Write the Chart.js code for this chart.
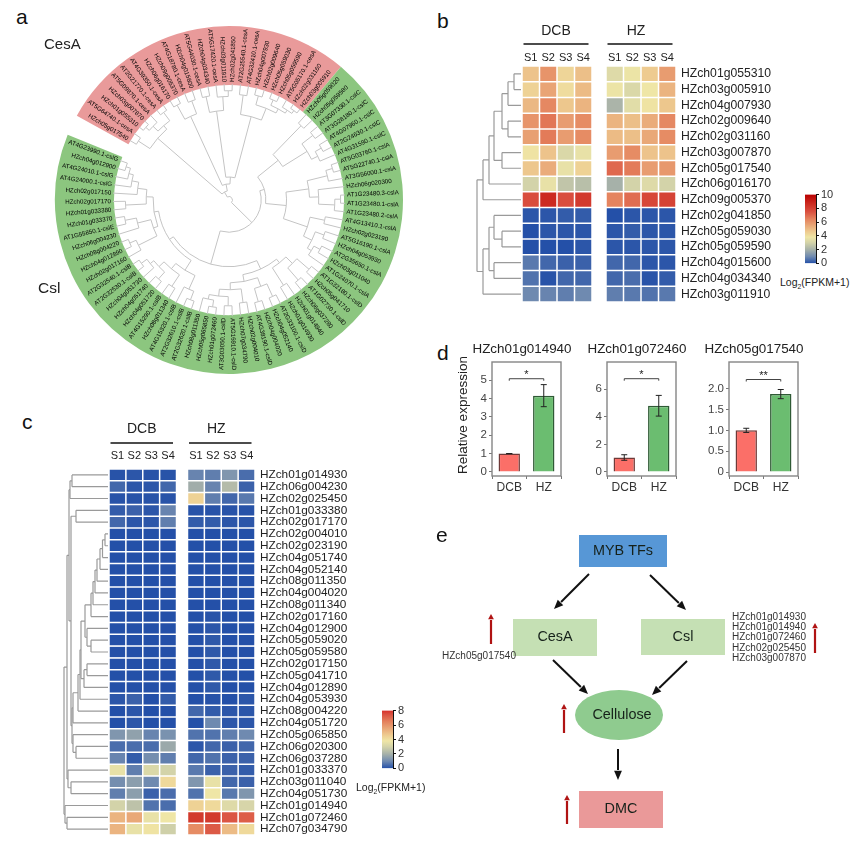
<!DOCTYPE html>
<html>
<head>
<meta charset="utf-8">
<title>Cellulose genes</title>
<script src="https://cdn.jsdelivr.net/npm/chart.js@4"></script>
<style>
  html, body { margin: 0; background: #fff; }
  body { width: 865px; height: 846px; position: relative; overflow: hidden; filter: blur(0.3px); font-family: "Liberation Sans", Arial, sans-serif; color: #222; }
  canvas { position: absolute; }
  .txt { position: absolute; white-space: nowrap; transform: translateY(-50%); line-height: 1; }
  .txt sub { font-size: 0.65em; line-height: 0; }
</style>
</head>
<body>
<script>
// panel a: leaves clockwise, from the start of each sector
const cesaLeaves = ["HZch05g017540","AT5G64740.1-cesA","HZch01g055310","HZch03g007870","AT5G09870.1-cesA","AT2G21770.1-cesA","AT4G39350.1-cesA","HZch06g016170","HZch09g005370","AT4G18780.1-cesA","HZch04g015600","AT5G44030.1-cesA","HZch04g034340","AT5G17420.1-cesA","HZch03g011910","HZch02g041850","AT2G25540.1-cesA","AT4G32410.1-cesA","HZch04g007930","HZch02g009640","HZch05g059030","HZch05g059590","AT5G05170.1-cesA","HZch02g031160","HZch03g005910"];
const cslLeaves = ["HZch05g059020","HZch05g059580","AT3G07330.1-cslC","AT3G28180.1-cslC","AT4G07960.1-cslC","AT2G24630.1-cslC","AT4G31590.1-cslC","AT5G03760.1-cslA","AT5G22740.1-cslA","AT3G56000.1-cslA","HZch06g020300","AT1G23480.3-cslA","AT1G23480.1-cslA","AT1G23480.2-cslA","AT4G13410.1-cslA","HZch02g023190","AT5G16190.1-cslA","HZch04g053930","AT2G35650.1-cslA","HZch03g011040","AT1G24070.1-cslA","AT1G32180.1-cslD","HZch05g041710","AT1G02730.1-cslD","HZch06g037280","HZch01g014940","HZch01g014930","AT2G33100.1-cslD","HZch04g052140","HZch04g004020","AT4G38190.1-cslD","HZch02g004010","HZch07g034790","AT5G16910.1-cslD","AT3G03050.1-cslD","HZch01g072460","HZch05g065850","HZch08g011350","AT2G32620.1-cslB","AT2G32610.1-cslB","AT4G15320.1-cslB","HZch08g011340","AT4G15290.1-cslB","HZch04g051720","HZch04g051740","HZch04g051730","AT2G32530.1-cslB","AT2G32540.1-cslB","HZch02g017160","HZch04g012890","HZch08g004220","HZch06g004230","AT1G55850.1-cslE","HZch01g033370","HZch01g033380","HZch02g017170","HZch02g017150","AT4G24000.1-cslG","AT4G24010.1-cslG","HZch04g012900","AT4G23990.1-cslG"];
const sectorDegrees = [101, 252, 7];

// trees are [height, child, child...], 0 is a leaf. panel a height is % of the inner radius
const cesaTree = [8,
  [82,[94,0,0],[86,[92,[96,0,0],0],[95,0,0]]],
  [14,[80,[94,0,0],[92,0,0]],
    [20,[78,[92,0,0],[90,0,[95,0,0]]],
      [75,[92,0,0],[86,[94,0,0],[90,[95,0,0],[93,0,[96,0,0]]]]]]]];
const cslCTree = [55,[90,0,0],[80,[92,0,0],[86,[92,0,0],0]]];
const cslATree = [50,
  [70,[88,[94,0,0],0],[78,0,[92,[97,0,0],0]]],
  [72,[85,0,0],[80,[88,0,0],[84,[90,0,0],0]]]];
const cslDTree = [66,
  [70,[78,[92,0,0],[92,0,0]],[88,0,0]],
  [72,[80,[92,0,0],[92,0,0]],[78,[90,0,0],[84,[92,0,0],[88,[94,0,0],0]]]]];
const cslBTree = [72,[85,[93,0,0],0],[78,[90,0,0],[84,[92,0,0],[88,0,[94,0,0]]]]];
const cslEGTree = [66,[70,[88,0,[94,0,0]],[82,0,[92,0,0]]],[72,[90,0,0],[80,0,[86,0,[90,0,[94,0,0]]]]]];
const cslTree = [28,[32,cslCTree,cslATree],[58,cslDTree,[62,cslBTree,cslEGTree]]];
const phyloTree = [3, cesaTree, cslTree];

// panel b
const genesB = ["HZch01g055310","HZch03g005910","HZch04g007930","HZch02g009640","HZch02g031160","HZch03g007870","HZch05g017540","HZch06g016170","HZch09g005370","HZch02g041850","HZch05g059030","HZch05g059590","HZch04g015600","HZch04g034340","HZch03g011910"];
const valuesB = [
  [4.8,6.0,4.3,4.9, 3.3,3.7,4.6,5.8],
  [4.4,5.6,4.1,5.0, 3.7,3.2,3.8,5.2],
  [5.1,6.3,4.7,5.2, 2.1,3.4,3.9,4.7],
  [6.0,6.7,5.8,6.2, 5.2,4.9,5.4,6.3],
  [5.7,6.6,5.8,6.2, 5.0,4.9,5.5,6.2],
  [3.9,4.8,3.2,3.6, 5.8,6.2,4.8,4.8],
  [4.7,5.4,3.6,4.4, 7.0,6.6,5.8,5.9],
  [3.0,3.6,2.6,2.4, 2.0,3.0,3.3,3.0],
  [7.6,8.7,7.6,8.2, 6.4,6.9,7.8,7.9],
  [0.1,0.1,0.2,0.2, 0.0,0.1,0.1,0.1],
  [0.0,0.1,0.1,0.1, 0.1,0.2,0.1,0.1],
  [0.0,0.0,0.0,0.1, 0.1,0.1,0.1,0.1],
  [0.7,0.4,0.3,0.3, 0.4,0.4,0.1,0.1],
  [0.6,0.05,0.4,0.4, 0.4,0.5,0.05,0.2],
  [1.0,0.9,0.8,1.0, 0.8,0.7,0.6,0.7]
];
const treeB = [44,[38,[32,[27,[19,[13,[7,0,0],0],[13,0,0]],[19,0,0]],0],0],[38,[32,[27,0,[19,0,0]],[27,0,0]],0]];

// panel c
const genesC = ["HZch01g014930","HZch06g004230","HZch02g025450","HZch01g033380","HZch02g017170","HZch02g004010","HZch02g023190","HZch04g051740","HZch04g052140","HZch08g011350","HZch04g004020","HZch08g011340","HZch02g017160","HZch04g012900","HZch05g059020","HZch05g059580","HZch02g017150","HZch05g041710","HZch04g012890","HZch04g053930","HZch08g004220","HZch04g051720","HZch05g065850","HZch06g020300","HZch06g037280","HZch01g033370","HZch03g011040","HZch04g051730","HZch01g014940","HZch01g072460","HZch07g034790"];
const valuesC = [
  [0.05,0.1,0.05,0.05, 0.9,0.8,1.3,0.5],
  [0.4,0.1,0.1,0.4, 1.9,0.9,2.3,0.3],
  [0.05,0.05,0.05,0.05, 4.4,0.8,0.4,0.7],
  [0.2,0.3,0.1,0.9, 0.05,0.05,0.05,0.05],
  [0.4,0.1,0.1,0.8, 0.2,0.2,0.1,0.1],
  [0,0,0,0, 0,0,0,0],
  [0,0,0,0, 0,0,0,0],
  [0,0,0,0, 0,0,0,0],
  [0,0,0,0, 0,0,0,0],
  [0,0,0,0, 0,0,0,0],
  [0,0,0,0, 0,0,0,0],
  [0,0,0,0, 0,0,0,0],
  [0,0,0,0, 0,0.05,0,0],
  [0,0,0,0, 0,0.1,0,0],
  [0,0,0,0, 0,0.15,0,0],
  [0,0,0,0, 0,0.15,0,0],
  [0,0,0,0, 0,0.15,0,0],
  [0,0,0,0, 0,0.15,0,0],
  [0,0,0,0, 0,0.15,0,0],
  [0.1,0.3,0,0.2, 0,0.05,0,0.1],
  [0,0.1,0,0, 0.4,0.2,0.1,0.1],
  [0,0.1,0,0, 0,1.0,0.1,0.1],
  [1.3,1.6,0.9,1.2, 0.6,0.6,0.8,1.0],
  [0.5,0.5,0.5,1.8, 0.1,0.4,0.3,0.4],
  [0.9,0.2,1.1,0.8, 0.4,0.6,0.3,0.3],
  [3.6,0.8,3.2,3.0, 0.7,0.3,0.3,0.2],
  [1.1,1.5,1.0,4.2, 1.3,3.6,0.4,0.3],
  [0.8,1.5,0.3,0.5, 0.6,3.8,0.7,1.3],
  [3.0,2.5,0.6,0.5, 4.4,4.2,3.3,3.1],
  [5.2,5.5,3.6,3.8, 8.2,8.2,7.4,7.2],
  [5.2,3.6,3.9,2.9, 6.2,7.3,5.0,4.2]
];
const chainC = [17,[15,[13,[11,[8,[5.5,[3,0,0],0],0],0],0],0],0];
const treeC = [44,
  [41,
    [39,[38,[36,0,0],0],
      [37,[32,0,0],
        [36,[35,[30,[28,[27,[23,chainC,[21,0,[17,0,0]]],[24,[21,0,0],0]],0],0],0],[35,0,[32,0,0]]]]],
    [40,0,[37,0,0]]],
  [43,0,[41,0,0]]];

const sampleNames = ["S1","S2","S3","S4","S1","S2","S3","S4"];
const heatStops = [0,1,2,3,3.8,4.6,5.5,6.5,7.5,8.7,10];
const heatColors = ["#2450a8","#6f8ab0","#a6b1a9","#d3d3a9","#efe6a6","#eecb90","#e9a878","#e4805c","#da5040","#cc2a20","#b80000"];

// panel d
const barGroups = ["DCB","HZ"];
const barGenes = ["HZch01g014940","HZch01g072460","HZch05g017540"];
const barMeans = [[1,4.15],[1.05,4.8],[1.0,1.87]];
const barErrors = [[0,0.6],[0.2,0.75],[0.05,0.11]];
const barTicks = [[0,1,2,3,4,5],[0,2,4,6],[0,0.5,1,1.5,2]];
const barStars = ["*","*","**"];
const bracketLevels = [5.07,6.76,2.22];
const axisRanges = [[-0.22,5.98],[-0.29,7.97],[-0.095,2.64]];

// panel e
const flowBoxes = ["MYB TFs","CesA","Csl","DMC"];
const cesaGenes = ["HZch05g017540"];
const cslGenes = ["HZch01g014930","HZch01g014940","HZch01g072460","HZch02g025450","HZch03g007870"];

Chart.defaults.font.family = '"Liberation Sans", Arial, sans-serif';
Chart.defaults.color = "#222";
Chart.defaults.animation = false;
Chart.defaults.responsive = false;
Chart.defaults.plugins.legend.display = false;
Chart.defaults.plugins.tooltip.enabled = false;

function addCanvas(left, top, width, height) {
  const c = document.createElement("canvas");
  c.width = width;
  c.height = height;
  c.style.left = left + "px";
  c.style.top = top + "px";
  document.body.appendChild(c);
  return c;
}

function addText(html, x, y, size, extra) {
  const d = document.createElement("div");
  d.className = "txt";
  d.innerHTML = html;
  d.style.left = x + "px";
  d.style.top = y + "px";
  d.style.fontSize = size + "px";
  if (extra) Object.assign(d.style, extra);
  document.body.appendChild(d);
}

function hexToRgb(h) {
  return [1, 3, 5].map((i) => parseInt(h.slice(i, i + 2), 16));
}

function colorFor(v) {
  let i = 0;
  while (i < heatStops.length - 2 && v > heatStops[i + 1]) i++;
  const t = Math.min(1, Math.max(0, (v - heatStops[i]) / (heatStops[i + 1] - heatStops[i])));
  const a = hexToRgb(heatColors[i]);
  const b = hexToRgb(heatColors[i + 1]);
  return "rgb(" + a.map((c, k) => Math.round(c + (b[k] - c) * t)).join(",") + ")";
}

// walks a nested tree, calling link(height, children) for each inner node
function walkTree(node, state, place, link) {
  if (node === 0) return { at: place(state.i++), h: 0 };
  const kids = node.slice(1).map((k) => walkTree(k, state, place, link));
  link(node[0], kids);
  return { at: (kids[0].at + kids[kids.length - 1].at) / 2, h: node[0] };
}

// panel a
const phyloPlugin = {
  id: "phylo",
  afterDatasetsDraw(chart) {
    const ctx = chart.ctx;
    const arcs = chart.getDatasetMeta(0).data;
    const cx = arcs[0].x;
    const cy = arcs[0].y;
    const inner = arcs[0].innerRadius;
    const stepA = (arcs[0].endAngle - arcs[0].startAngle) / cesaLeaves.length;
    const stepB = (arcs[1].endAngle - arcs[1].startAngle) / cslLeaves.length;
    const angleOf = (i) => i < cesaLeaves.length
      ? arcs[0].startAngle + (i + 0.5) * stepA
      : arcs[1].startAngle + (i - cesaLeaves.length + 0.5) * stepB;
    const rOf = (h) => inner * (h === 0 ? 101 : h) / 100;

    ctx.save();
    ctx.strokeStyle = "#c4c4c4";
    ctx.lineWidth = 1;
    walkTree(phyloTree, { i: 0 }, angleOf, (h, kids) => {
      const r = rOf(h);
      ctx.beginPath();
      ctx.arc(cx, cy, r, kids[0].at, kids[kids.length - 1].at);
      ctx.stroke();
      kids.forEach((k) => {
        ctx.beginPath();
        ctx.moveTo(cx + r * Math.cos(k.at), cy + r * Math.sin(k.at));
        ctx.lineTo(cx + rOf(k.h) * Math.cos(k.at), cy + rOf(k.h) * Math.sin(k.at));
        ctx.stroke();
      });
    });

    // radial labels, starting at the inner edge of the ring
    ctx.font = '6.2px "Liberation Sans", Arial, sans-serif';
    ctx.fillStyle = "#000";
    ctx.textBaseline = "middle";
    cesaLeaves.concat(cslLeaves).forEach((name, i) => {
      const a = angleOf(i);
      const right = Math.cos(a) >= 0;
      ctx.save();
      ctx.translate(cx, cy);
      ctx.rotate(right ? a : a + Math.PI);
      ctx.textAlign = right ? "left" : "right";
      ctx.fillText(name, right ? inner + 3 : -inner - 3, 0);
      ctx.restore();
    });
    ctx.restore();
  }
};

new Chart(addCanvas(49, 20, 360, 360), {
  type: "doughnut",
  data: {
    labels: ["CesA", "Csl", ""],
    datasets: [{
      data: sectorDegrees,
      backgroundColor: ["#e99a9a", "#8cc67f", "rgba(0,0,0,0)"],
      borderWidth: 0
    }]
  },
  options: { radius: 174, cutout: 119, rotation: -61, layout: { padding: 0 } },
  plugins: [phyloPlugin]
});

// panels b and c
function heatmap(canvas, genes, values, tree, o) {
  const gap = o.gap;
  const columns = [];
  values[0].forEach((_, c) => {
    columns.push({
      data: genes.map(() => 1),
      backgroundColor: values.map((r) => colorFor(r[c])),
      borderColor: "#fff",
      borderWidth: 0.75,
      borderSkipped: false,
      inflateAmount: 0,
      barPercentage: 1,
      categoryPercentage: 1
    });
    if (c === 3) {
      columns.push({
        data: genes.map(() => gap),
        backgroundColor: "rgba(0,0,0,0)",
        borderWidth: 0,
        barPercentage: 1,
        categoryPercentage: 1
      });
    }
  });
  const tickAt = sampleNames.map((_, i) => (i < 4 ? i + 0.5 : i + 0.5 + gap));

  const headers = {
    id: "headers",
    afterDraw(chart) {
      const ctx = chart.ctx;
      const x = chart.scales.x;
      const area = chart.chartArea;
      ctx.save();

      // group headers and rules
      [[0, 4, "DCB", 0], [4 + gap, 8 + gap, "HZ", o.hzShift]].forEach(([from, to, name, shift]) => {
        const a = x.getPixelForValue(from) + 1.5;
        const b = x.getPixelForValue(to) - 3.5;
        ctx.strokeStyle = "#111";
        ctx.lineWidth = 1.4;
        ctx.beginPath();
        ctx.moveTo(a, area.top - o.ruleUp);
        ctx.lineTo(b, area.top - o.ruleUp);
        ctx.stroke();
        ctx.fillStyle = "#222";
        ctx.font = o.headFont + 'px "Liberation Sans", Arial, sans-serif';
        ctx.textAlign = "center";
        ctx.textBaseline = "middle";
        ctx.fillText(name, (a + b) / 2 + shift, area.top - o.headUp);
      });

      // dendrogram
      const y = chart.scales.y;
      const xOf = (h) => area.left - 1 - h;
      ctx.strokeStyle = "#9a9a9a";
      ctx.lineWidth = 1.2;
      walkTree(tree, { i: 0 }, (i) => y.getPixelForValue(i), (h, kids) => {
        ctx.beginPath();
        ctx.moveTo(xOf(h), kids[0].at);
        ctx.lineTo(xOf(h), kids[kids.length - 1].at);
        kids.forEach((k) => {
          ctx.moveTo(xOf(h), k.at);
          ctx.lineTo(xOf(k.h), k.at);
        });
        ctx.stroke();
      });
      ctx.restore();
    }
  };

  return new Chart(canvas, {
    type: "bar",
    data: { labels: genes, datasets: columns },
    options: {
      indexAxis: "y",
      layout: { padding: { left: o.left, top: 0, right: 0, bottom: 2 } },
      scales: {
        x: {
          type: "linear",
          position: "top",
          stacked: true,
          min: 0,
          max: 8 + gap,
          grid: { display: false, drawTicks: false },
          border: { display: false },
          afterBuildTicks(s) { s.ticks = tickAt.map((v) => ({ value: v })); },
          afterFit(s) { s.height = o.axisTop; },
          ticks: {
            autoSkip: false,
            maxRotation: 0,
            padding: o.samplePad,
            font: { size: 11 },
            color: "#222",
            callback: (v, i) => sampleNames[i]
          }
        },
        y: {
          type: "category",
          position: "right",
          stacked: true,
          offset: true,
          grid: { display: false, drawTicks: false },
          border: { display: false },
          afterFit(s) {
            s.width = o.labelWidth;
            s.paddingTop = 0;
            s.paddingBottom = 0;
          },
          ticks: { autoSkip: false, padding: 5, font: { size: o.geneFont }, color: "#222" }
        }
      }
    },
    plugins: [headers]
  });
}

// colour key: one bar filled with the heat gradient
function colorKey(canvas, max, width) {
  return new Chart(canvas, {
    type: "bar",
    data: {
      labels: [""],
      datasets: [{
        data: [max],
        barPercentage: 1,
        categoryPercentage: 1,
        backgroundColor(c) {
          const area = c.chart.chartArea;
          if (!area) return "#888";
          const g = c.chart.ctx.createLinearGradient(0, area.bottom, 0, area.top);
          heatStops.forEach((v, i) => { if (v <= max) g.addColorStop(v / max, heatColors[i]); });
          if (max < 10) g.addColorStop(1, "#d8302a");
          return g;
        }
      }]
    },
    options: {
      layout: { padding: { top: 8, bottom: 8, left: 0, right: 0 } },
      scales: {
        x: { display: false },
        y: {
          position: "right",
          min: 0,
          max: max,
          afterFit(s) { s.width = width; },
          grid: { drawOnChartArea: false, tickLength: 3, color: "#111" },
          border: { display: true, color: "#111" },
          ticks: { stepSize: 2, autoSkip: false, padding: 2, font: { size: 11 }, color: "#333" }
        }
      }
    }
  });
}

heatmap(addCanvas(470, 20, 306, 284), genesB, valuesB, treeB, {
  gap: 0.8, left: 52, axisTop: 46, samplePad: 1, labelWidth: 100,
  geneFont: 12.2, headFont: 14, ruleUp: 22, headUp: 35, hzShift: -4
});
heatmap(addCanvas(50, 400, 320, 437), genesC, valuesC, treeC, {
  gap: 0.65, left: 59, axisTop: 69, samplePad: 6, labelWidth: 115,
  geneFont: 11.8, headFont: 14, ruleUp: 26, headUp: 40, hzShift: -4
});
colorKey(addCanvas(805, 186, 36, 86), 10, 25);
colorKey(addCanvas(382, 702, 36, 75), 8, 25);

// panel d
const barLayouts = [
  { left: 452, width: 140, yWidth: 40, right: 31, titleShift: -4.5 },
  { left: 570, width: 134, yWidth: 37, right: 28, titleShift: -4.5 },
  { left: 700, width: 108, yWidth: 29, right: 10, titleShift: -9.5 }
];

barGenes.forEach((gene, p) => {
  const box = barLayouts[p];
  const marks = {
    id: "marks",
    afterDatasetsDraw(chart) {
      const ctx = chart.ctx;
      const x = chart.scales.x;
      const y = chart.scales.y;
      const area = chart.chartArea;
      ctx.save();

      // panel frame
      ctx.strokeStyle = "#858585";
      ctx.lineWidth = 1.4;
      ctx.strokeRect(area.left, area.top, area.width, area.height);

      // error bars
      ctx.strokeStyle = "#222";
      ctx.lineWidth = 1;
      barMeans[p].forEach((m, i) => {
        const e = barErrors[p][i];
        const px = x.getPixelForValue(i);
        ctx.beginPath();
        ctx.moveTo(px, y.getPixelForValue(m - e));
        ctx.lineTo(px, y.getPixelForValue(m + e));
        [m - e, m + e].forEach((v) => {
          ctx.moveTo(px - 3, y.getPixelForValue(v));
          ctx.lineTo(px + 3, y.getPixelForValue(v));
        });
        ctx.stroke();
      });

      // significance bracket
      const by = y.getPixelForValue(bracketLevels[p]);
      const x0 = x.getPixelForValue(0);
      const x1 = x.getPixelForValue(1);
      ctx.strokeStyle = "#444";
      ctx.beginPath();
      ctx.moveTo(x0, by + 2);
      ctx.lineTo(x0, by);
      ctx.lineTo(x1, by);
      ctx.lineTo(x1, by + 2);
      ctx.stroke();
      ctx.fillStyle = "#222";
      ctx.font = '11px "Liberation Sans", Arial, sans-serif';
      ctx.textAlign = "center";
      ctx.textBaseline = "middle";
      ctx.fillText(barStars[p], (x0 + x1) / 2, by - 3.5);

      // gene title, off centre as in the figure
      ctx.font = '13.4px "Liberation Sans", Arial, sans-serif';
      ctx.fillText(gene, (area.left + area.right) / 2 + box.titleShift, area.top - 13);

      if (p === 0) {
        ctx.translate(area.left - 29, area.top + 53);
        ctx.rotate(-Math.PI / 2);
        ctx.font = '13.5px "Liberation Sans", Arial, sans-serif';
        ctx.fillText("Relative expression", 0, 0);
      }
      ctx.restore();
    }
  };

  new Chart(addCanvas(box.left, 340, box.width, 160), {
    type: "bar",
    data: {
      labels: barGroups,
      datasets: [{
        data: barMeans[p],
        backgroundColor: ["#fb6f68", "#6bbd70"],
        borderColor: ["#6e3a38", "#2f5a35"],
        borderWidth: 1.5,
        barPercentage: 0.62,
        categoryPercentage: 1
      }]
    },
    options: {
      layout: { padding: { left: 0, right: box.right, top: 22, bottom: 0 } },
      scales: {
        x: {
          grid: { drawOnChartArea: false, tickLength: 3, color: "#777" },
          border: { display: false },
          afterFit(s) { s.height = 24; },
          ticks: { padding: 1, font: { size: 12 }, color: "#333", maxRotation: 0 }
        },
        y: {
          min: axisRanges[p][0],
          max: axisRanges[p][1],
          grid: { drawOnChartArea: false, tickLength: 3, color: "#777" },
          border: { display: false },
          afterBuildTicks(s) { s.ticks = barTicks[p].map((v) => ({ value: v })); },
          afterFit(s) { s.width = box.yWidth; },
          ticks: { padding: 2, font: { size: 11.5 }, color: "#444" }
        }
      }
    },
    plugins: [marks]
  });
});

// panel e: invisible linear axes carrying the diagram
const flowPlugin = {
  id: "flow",
  afterDraw(chart) {
    const ctx = chart.ctx;
    const X = (v) => chart.scales.x.getPixelForValue(v);
    const Y = (v) => chart.scales.y.getPixelForValue(v);
    ctx.save();

    const rects = [[579,535,88,32,"#5797d6"], [513,619,84,37,"#c5e0b4"], [641,619,84,36,"#c5e0b4"], [579,791,84,37,"#ea9999"]];
    rects.forEach(([x, y, w, h, c], i) => {
      ctx.fillStyle = c;
      ctx.fillRect(X(x), Y(y), X(x + w) - X(x), Y(y + h) - Y(y));
      ctx.fillStyle = "#16211a";
      ctx.font = '14.4px "Liberation Sans", Arial, sans-serif';
      ctx.textAlign = "center";
      ctx.textBaseline = "middle";
      ctx.fillText(flowBoxes[i], X(x + w / 2), Y(y + h / 2));
    });

    ctx.fillStyle = "#8fcb8f";
    ctx.beginPath();
    ctx.ellipse(X(619), Y(715), 44, 25, 0, 0, Math.PI * 2);
    ctx.fill();
    ctx.fillStyle = "#16211a";
    ctx.font = '14.4px "Liberation Sans", Arial, sans-serif';
    ctx.textAlign = "center";
    ctx.textBaseline = "middle";
    ctx.fillText("Cellulose", X(622), Y(715));

    const arrow = (x0, y0, x1, y1, color, width, head, spread) => {
      const a = Math.atan2(Y(y1) - Y(y0), X(x1) - X(x0));
      ctx.strokeStyle = color;
      ctx.fillStyle = color;
      ctx.lineWidth = width;
      ctx.beginPath();
      ctx.moveTo(X(x0), Y(y0));
      ctx.lineTo(X(x1) - head * Math.cos(a), Y(y1) - head * Math.sin(a));
      ctx.stroke();
      ctx.beginPath();
      ctx.moveTo(X(x1), Y(y1));
      ctx.lineTo(X(x1) - head * Math.cos(a - spread), Y(y1) - head * Math.sin(a - spread));
      ctx.lineTo(X(x1) - head * Math.cos(a + spread), Y(y1) - head * Math.sin(a + spread));
      ctx.closePath();
      ctx.fill();
    };
    [[589,574,554,609],[650,575,686,610],[553,660,588,694],[687,661,652,695],[618,749,618,780]]
      .forEach((a) => arrow(a[0], a[1], a[2], a[3], "#111", 2, 10, 0.4));
    [[491,644,491,614],[564,733,564,704],[567,824,567,795],[815,653,815,623]]
      .forEach((a) => arrow(a[0], a[1], a[2], a[3], "#b01313", 2.2, 6, 0.5));

    ctx.fillStyle = "#333";
    ctx.font = '10px "Liberation Sans", Arial, sans-serif';
    ctx.textAlign = "left";
    ctx.fillText(cesaGenes[0], X(442), Y(656));
    cslGenes.forEach((g, i) => ctx.fillText(g, X(732), Y(617 + i * 10.3)));
    ctx.restore();
  }
};

new Chart(addCanvas(430, 520, 430, 320), {
  type: "scatter",
  data: { datasets: [{ data: [] }] },
  options: {
    layout: { padding: 0 },
    scales: {
      x: { type: "linear", display: false, min: 430, max: 860 },
      y: { type: "linear", display: false, min: 520, max: 840, reverse: true }
    }
  },
  plugins: [flowPlugin]
});

// panel letters and free labels
addText("a", 16, 16, 21, { color: "#111" });
addText("b", 437, 20, 21, { color: "#111" });
addText("c", 22, 421, 21, { color: "#111" });
addText("d", 437, 352, 21, { color: "#111" });
addText("e", 436, 534, 21, { color: "#111" });
addText("CesA", 44, 43, 15);
addText("Csl", 38, 288, 15.5);
addText("Log<sub>2</sub>(FPKM+1)", 780, 282, 10.5);
addText("Log<sub>2</sub>(FPKM+1)", 356, 787, 10.5);
</script>
</body>
</html>
